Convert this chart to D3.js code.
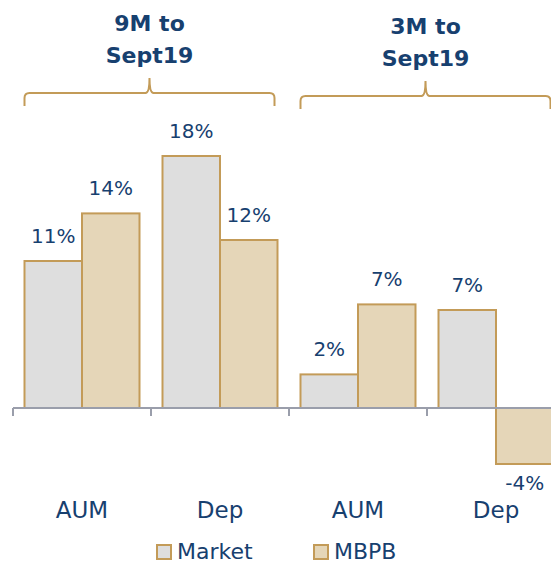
<!DOCTYPE html>
<html>
<head>
<meta charset="utf-8">
<title>chart</title>
<style>
  body { margin: 0; background: #fff; }
  svg { display: block; font-family: "DejaVu Sans", sans-serif; }
</style>
</head>
<body>
<div id="chart"></div>
<script src="https://cdn.jsdelivr.net/npm/d3@7"></script>
<script>
// values
var periods = [['9M to', 'Sept19'], ['3M to', 'Sept19']];
var categories = ['AUM', 'Dep', 'AUM', 'Dep'];
var seriesNames = ['Market', 'MBPB'];
var market = [10.5, 18.0, 2.4, 7.0];
var mbpb = [13.9, 12.0, 7.4, -4.0];
var marketLabels = ['11%', '18%', '2%', '7%'];
var mbpbLabels = ['14%', '12%', '7%', '-4%'];

var W = 551, H = 563;
var navy = '#17406f', gold = '#c39b58';
var fills = { Market: '#dedede', MBPB: '#e5d6b8' };

var svg = d3.select('#chart').append('svg')
  .attr('width', W).attr('height', H);

var x = d3.scaleBand()
  .domain(d3.range(categories.length))
  .range([13, 13 + 138 * categories.length])
  .paddingInner(0).paddingOuter(0);

var xs = d3.scaleBand()
  .domain(seriesNames)
  .range([0, x.bandwidth()])
  .paddingOuter(0.2).paddingInner(0);

var y = d3.scaleLinear().domain([-5, 18]).range([478, 156]);

var rows = [];
categories.forEach(function(c, i) {
  rows.push({ i: i, s: 'Market', v: market[i], label: marketLabels[i] });
  rows.push({ i: i, s: 'MBPB', v: mbpb[i], label: mbpbLabels[i] });
});

// bars
svg.append('g').selectAll('rect').data(rows).enter().append('rect')
  .attr('x', d => x(d.i) + xs(d.s))
  .attr('y', d => y(Math.max(0, d.v)))
  .attr('width', xs.bandwidth())
  .attr('height', d => Math.abs(y(d.v) - y(0)))
  .attr('fill', d => fills[d.s])
  .attr('stroke', gold)
  .attr('stroke-width', 2);

// axis line + ticks
var axisG = svg.append('g').attr('stroke', '#9a9eab').attr('stroke-width', 2);
axisG.append('line')
  .attr('x1', x.range()[0]).attr('x2', x.range()[1])
  .attr('y1', y(0)).attr('y2', y(0));
axisG.selectAll('.tick').data(d3.range(categories.length + 1)).enter().append('line')
  .attr('x1', d => x.range()[0] + d * x.step())
  .attr('x2', d => x.range()[0] + d * x.step())
  .attr('y1', y(0)).attr('y2', y(0) + 8);

// value labels
svg.append('g').selectAll('text').data(rows).enter().append('text')
  .attr('x', d => x(d.i) + xs(d.s) + xs.bandwidth() / 2)
  .attr('y', d => d.v >= 0 ? y(d.v) - 18 : y(d.v) + 26)
  .attr('text-anchor', 'middle')
  .attr('fill', navy)
  .style('font-size', '20px')
  .text(d => d.label);

// category labels
svg.append('g').selectAll('text').data(categories).enter().append('text')
  .attr('x', (d, i) => x(i) + x.bandwidth() / 2)
  .attr('y', 518)
  .attr('text-anchor', 'middle')
  .attr('fill', navy)
  .style('font-size', '23px')
  .text(d => d);

// period titles and braces
periods.forEach(function(p, k) {
  var left = x(k * 2) + xs('Market');
  var right = x(k * 2 + 1) + xs('MBPB') + xs.bandwidth() - 3;
  var mid = (left + right) / 2;
  var dy = k * 3;
  var t = svg.append('text')
    .attr('text-anchor', 'middle')
    .attr('fill', navy)
    .style('font-size', '22px')
    .style('font-weight', 'bold');
  t.append('tspan').attr('x', mid).attr('y', 31 + dy).text(p[0]);
  t.append('tspan').attr('x', mid).attr('y', 63 + dy).text(p[1]);

  var top = 78 + dy, bar = 93 + dy, bot = 106 + dy, r = 5;
  var path = d3.path();
  path.moveTo(left, bot);
  path.lineTo(left, bar + r);
  path.quadraticCurveTo(left, bar, left + r, bar);
  path.lineTo(mid - 4, bar);
  path.quadraticCurveTo(mid, bar, mid, top);
  path.quadraticCurveTo(mid, bar, mid + 4, bar);
  path.lineTo(right - r, bar);
  path.quadraticCurveTo(right, bar, right, bar + r);
  path.lineTo(right, bot);
  svg.append('path')
    .attr('d', path.toString())
    .attr('fill', 'none')
    .attr('stroke', gold)
    .attr('stroke-width', 2);
});

// legend
var legendX = [157, 314];
var lg = svg.append('g').selectAll('g').data(seriesNames).enter().append('g')
  .attr('transform', (d, i) => 'translate(' + legendX[i] + ',545)');
lg.append('rect')
  .attr('width', 14).attr('height', 14)
  .attr('fill', d => fills[d])
  .attr('stroke', gold).attr('stroke-width', 2);
lg.append('text')
  .attr('x', 20).attr('y', 14)
  .attr('fill', navy)
  .style('font-size', '22px')
  .text(d => d);
</script>
</body>
</html>
